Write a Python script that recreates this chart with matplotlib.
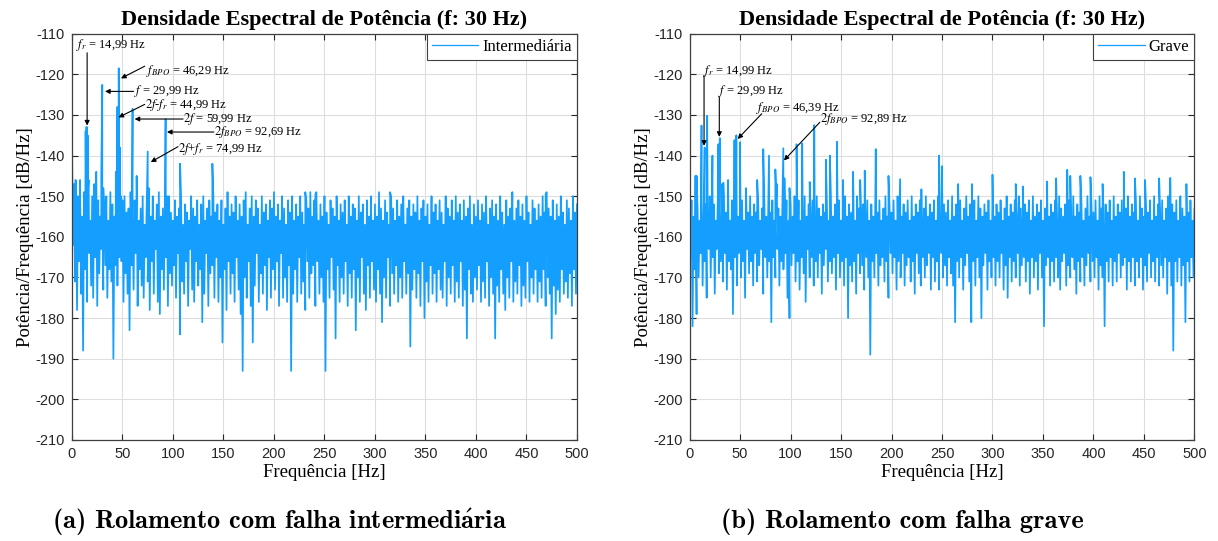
import numpy as np
import matplotlib

matplotlib.use("Agg")
import matplotlib.pyplot as plt

plt.rcParams["mathtext.fontset"] = "stix"
plt.rcParams["axes.unicode_minus"] = False

LINE_COLOR = "#149fff"
SERIF = ["Liberation Serif", "DejaVu Serif"]
SANS = ["Liberation Sans", "DejaVu Sans"]

# noise floor, one value per Hz (0..500), PSD in dB/Hz
noise_inter = [
    -137, -162, -147, -171, -153, -178, -150, -166, -146, -174, -155, -188, -149, -168, -152, -176, -148, -164, -156, -172,
    -150, -175, -147, -165, -154, -177, -151, -169, -155, -163, -148, -173, -153, -167, -150, -175, -156, -168, -149, -171,
    -152, -190, -155, -167, -157, -172, -159, -165, -160, -166, -151, -176, -150, -169, -154, -174, -153, -183, -149, -167,
    -155, -173, -151, -164, -149, -177, -156, -168, -153, -172, -150, -175, -157, -165, -152, -171, -154, -178, -155, -166,
    -150, -174, -156, -163, -152, -176, -149, -179, -155, -168, -153, -173, -151, -165, -157, -177, -150, -169, -154, -172,
    -156, -167, -151, -175, -155, -164, -153, -184, -150, -171, -157, -174, -152, -166, -154, -177, -156, -163, -150, -173,
    -153, -176, -155, -166, -151, -172, -157, -168, -152, -181, -150, -174, -156, -164, -153, -177, -151, -169, -155, -167,
    -150, -175, -154, -165, -152, -176, -156, -170, -151, -186, -157, -168, -153, -178, -149, -166, -155, -174, -152, -169,
    -154, -176, -150, -165, -156, -173, -152, -179, -155, -193, -151, -170, -149, -175, -157, -166, -153, -177, -150, -186,
    -155, -172, -151, -164, -153, -176, -157, -169, -150, -174, -154, -167, -152, -178, -156, -165, -151, -175, -153, -168,
    -149, -173, -155, -166, -152, -177, -156, -164, -150, -175, -153, -170, -157, -176, -151, -167, -154, -193, -150, -174,
    -156, -168, -152, -176, -155, -165, -150, -174, -154, -171, -157, -178, -151, -166, -153, -175, -149, -169, -155, -167,
    -151, -177, -149, -166, -156, -174, -152, -170, -155, -176, -150, -193, -154, -168, -157, -175, -151, -165, -153, -173,
    -155, -185, -150, -167, -156, -176, -152, -170, -154, -174, -151, -166, -157, -177, -150, -169, -155, -175, -152, -168,
    -153, -183, -156, -170, -150, -176, -154, -165, -152, -174, -157, -178, -151, -167, -155, -175, -150, -166, -156, -173,
    -152, -176, -155, -168, -149, -174, -153, -181, -156, -170, -151, -175, -154, -165, -157, -177, -150, -169, -153, -174,
    -156, -167, -151, -176, -155, -170, -152, -175, -150, -166, -157, -174, -153, -169, -151, -187, -155, -173, -152, -168,
    -154, -175, -150, -169, -156, -177, -153, -166, -151, -180, -155, -171, -152, -176, -157, -167, -150, -174, -154, -169,
    -152, -176, -156, -168, -151, -173, -154, -175, -157, -166, -150, -177, -153, -170, -155, -174, -151, -167, -156, -176,
    -150, -171, -154, -175, -152, -166, -156, -177, -151, -173, -155, -185, -153, -168, -150, -174, -157, -176, -152, -170,
    -155, -173, -151, -167, -156, -176, -152, -171, -154, -175, -150, -166, -157, -177, -153, -170, -151, -174, -155, -185,
    -152, -172, -156, -176, -150, -168, -154, -174, -157, -178, -151, -170, -155, -175, -153, -166, -149, -176, -156, -171,
    -153, -174, -151, -167, -155, -177, -152, -172, -156, -175, -150, -166, -154, -176, -157, -170, -151, -174, -153, -168,
    -156, -176, -152, -171, -155, -175, -150, -168, -154, -177, -149, -170, -153, -174, -155, -185, -151, -172, -156, -179,
    -152, -173, -155, -176, -150, -168, -154, -174, -157, -171, -151, -175, -153, -169, -156, -177, -150, -168, -154, -174, -152,
]

noise_grave = [
    -158, -165, -151, -182, -155, -168, -149, -179, -153, -170, -156, -164, -150, -172, -154, -166, -152, -175, -155, -163,
    -150, -170, -154, -165, -152, -174, -156, -163, -151, -169, -153, -166, -155, -171, -150, -164, -154, -173, -152, -166,
    -156, -168, -151, -179, -154, -165, -150, -172, -155, -164, -153, -170, -151, -166, -156, -175, -152, -163, -154, -169,
    -150, -166, -155, -172, -152, -164, -154, -171, -151, -167, -156, -163, -153, -174, -150, -165, -155, -170, -152, -166,
    -154, -181, -151, -165, -156, -170, -150, -163, -153, -172, -155, -166, -152, -168, -154, -164, -151, -175, -156, -180,
    -152, -167, -155, -164, -150, -171, -154, -166, -151, -173, -156, -165, -153, -169, -150, -176, -155, -163, -152, -170,
    -154, -165, -151, -172, -156, -166, -150, -170, -153, -164, -155, -174, -152, -167, -154, -163, -151, -171, -156, -166,
    -150, -169, -155, -165, -152, -173, -154, -164, -151, -170, -156, -166, -153, -172, -150, -165, -155, -180, -152, -167,
    -154, -171, -151, -166, -156, -174, -150, -164, -153, -169, -155, -167, -152, -173, -154, -165, -151, -170, -156, -189,
    -152, -166, -155, -170, -150, -164, -154, -172, -151, -167, -156, -165, -153, -171, -150, -166, -155, -175, -152, -164,
    -154, -169, -151, -165, -156, -173, -150, -166, -153, -170, -155, -164, -152, -172, -154, -167, -151, -165, -156, -171,
    -150, -166, -155, -174, -152, -164, -154, -169, -151, -172, -156, -165, -153, -170, -150, -167, -155, -164, -152, -173,
    -154, -165, -151, -171, -156, -166, -150, -173, -153, -164, -155, -170, -152, -167, -154, -172, -151, -165, -156, -169,
    -150, -172, -155, -181, -152, -166, -154, -170, -151, -165, -156, -173, -153, -167, -150, -164, -155, -171, -152, -181,
    -154, -166, -151, -172, -156, -165, -150, -170, -153, -180, -155, -167, -152, -164, -154, -173, -151, -166, -156, -170,
    -150, -165, -155, -172, -152, -166, -154, -170, -151, -164, -156, -173, -153, -167, -150, -175, -155, -165, -152, -171,
    -154, -166, -151, -170, -156, -164, -150, -172, -153, -167, -155, -165, -152, -171, -154, -166, -151, -174, -156, -165,
    -150, -170, -155, -166, -152, -173, -154, -164, -151, -170, -156, -182, -153, -167, -150, -165, -155, -172, -152, -166,
    -154, -171, -151, -165, -156, -170, -150, -173, -153, -166, -155, -164, -152, -172, -154, -167, -151, -170, -156, -165,
    -150, -168, -155, -174, -152, -166, -154, -171, -151, -165, -156, -172, -153, -167, -150, -164, -155, -171, -152, -166,
    -154, -170, -151, -165, -156, -173, -150, -167, -153, -170, -155, -182, -152, -166, -154, -171, -151, -165, -156, -172,
    -150, -166, -155, -171, -152, -164, -154, -170, -151, -167, -156, -165, -153, -173, -150, -166, -155, -171, -152, -165,
    -154, -172, -151, -166, -156, -170, -150, -165, -153, -173, -155, -167, -152, -171, -154, -164, -151, -170, -156, -166,
    -150, -171, -155, -165, -152, -172, -154, -167, -151, -170, -156, -165, -153, -174, -150, -166, -155, -172, -152, -188,
    -154, -166, -151, -171, -156, -165, -150, -172, -153, -167, -155, -181, -152, -166, -154, -171, -151, -165, -156, -170, -153,
]

# discrete spectral lines (Hz, dB/Hz)
peaks_inter_f = [3.6, 13.5, 14.0, 14.99, 15.5, 16.5, 24.0, 29.0, 29.99, 31.0, 43.5, 44.99, 45.5, 46.29, 47.5, 48.5,
                 59.99, 64.0, 74.99, 76.0, 92.69, 94.0, 107.0, 139.0, 231.0, 241.0, 315.0, 469.0]
peaks_inter_db = [-146, -134, -133, -133, -135, -146, -144, -145, -122.6, -148, -144, -128, -140, -118.5, -138, -150,
                  -128.5, -145, -139, -148, -131, -150, -142, -142, -149, -149.5, -149, -149.5]

peaks_grave_f = [5.9, 7.0, 11.9, 14.99, 17.5, 22.7, 28.6, 29.99, 32.3, 33.5, 38.2, 44.5, 46.39, 50.0, 56.0, 67.0,
                 73.0, 78.7, 85.0, 86.5, 92.89, 94.0, 99.0, 106.0, 111.6, 119.0, 123.5, 135.0, 139.0, 146.0, 152.0,
                 162.0, 169.0, 173.5, 184.4, 197.0, 208.5, 229.6, 247.0, 250.0, 266.0, 279.6, 300.0, 323.0, 330.0,
                 354.0, 363.0, 374.0, 377.0, 387.0, 397.0, 409.0, 430.0, 441.0, 451.0, 465.0, 476.0, 492.0]
peaks_grave_db = [-145, -145, -132.6, -138, -130.2, -140, -137.2, -135.7, -147, -146.7, -146, -136.2, -135, -136.7,
                  -148, -146, -138.4, -140, -143.4, -147, -138.2, -145.6, -148, -137.2, -137, -146.5, -132.5, -141,
                  -140, -136.6, -146, -144, -146, -143.7, -138.4, -145, -145.8, -148.3, -140, -142.6, -147, -147,
                  -144.7, -147, -147.6, -146.4, -145.6, -143.5, -145, -145, -145.3, -147, -144, -145.6, -146, -145.6,
                  -145.5, -147]

# (label, text x, text y, arrow tail, arrow head) in data coords
notes_inter = [
    (r"$f_r$ = 14,99 Hz", 3.6, -112.8, (15.0, -114.7), (15.0, -132.6)),
    (r"$f_{BPO}$ = 46,29 Hz", 73.0, -119.1, (72.0, -118.0), (48.5, -121.0)),
    (r"$f$ = 29,99 Hz", 61.0, -124.2, (61.0, -124.2), (32.7, -124.2)),
    (r"$2f$-$f_r$ = 44,99 Hz", 72.0, -127.6, (72.0, -127.4), (46.0, -130.6)),
    (r"$2f$ = 59,99 Hz", 110.0, -131.0, (110.0, -131.0), (62.0, -131.0)),
    (r"$2f_{BPO}$ = 92,69 Hz", 140.5, -134.2, (140.5, -134.2), (94.0, -134.2)),
    (r"$2f$+$f_r$ = 74,99 Hz", 105.0, -138.4, (105.0, -137.8), (78.0, -141.6)),
]
notes_grave = [
    (r"$f_r$ = 14,99 Hz", 13.1, -119.1, (14.4, -120.3), (14.4, -137.6)),
    (r"$f$ = 29,99 Hz", 27.9, -124.2, (29.5, -125.5), (29.5, -135.4)),
    (r"$f_{BPO}$ = 46,39 Hz", 66.0, -128.3, (71.5, -129.7), (47.7, -135.9)),
    (r"$2f_{BPO}$ = 92,89 Hz", 129.0, -131.1, (129.0, -131.8), (93.5, -141.2)),
]


def merged(noise, pf, pdb):
    f = np.concatenate([np.arange(len(noise), dtype=float), pf])
    y = np.concatenate([np.asarray(noise, dtype=float), pdb])
    order = np.argsort(f, kind="stable")
    return f[order], y[order]


def draw(ax, noise, pf, pdb, notes, label):
    f, y = merged(noise, pf, pdb)
    ax.plot(f, y, color=LINE_COLOR, lw=1.25, label=label)
    ax.set_xlim(0, 500)
    ax.set_ylim(-210, -110)
    ax.set_xticks(np.arange(0, 501, 50))
    ax.set_yticks(np.arange(-210, -109, 10))
    ax.grid(True, color="#dedede", lw=0.8)
    ax.set_axisbelow(True)
    ax.tick_params(direction="in", top=True, right=True, length=4, width=0.8,
                   colors="#262626", labelsize=10.5, pad=5)
    for t in ax.get_xticklabels() + ax.get_yticklabels():
        t.set_family(SANS)
    for s in ax.spines.values():
        s.set_color("#404040")
        s.set_linewidth(0.9)
    ax.set_title("Densidade Espectral de Potência (f: 30 Hz)", family=SERIF,
                 fontweight="bold", fontsize=16, pad=6)
    ax.set_xlabel("Frequência [Hz]", family=SERIF, fontsize=13.5, labelpad=2)
    ax.set_ylabel("Potência/Frequência [dB/Hz]", family=SERIF, fontsize=13.5, labelpad=1)
    for text, tx, ty, tail, head in notes:
        ax.text(tx, ty, text, family=SERIF, fontsize=9, va="center", ha="left")
        ax.annotate("", xy=head, xytext=tail,
                    arrowprops=dict(arrowstyle="-|>", lw=0.8, color="black",
                                    mutation_scale=7, shrinkA=0, shrinkB=0))
    handle, = ax.get_lines()[:1]
    leg = ax.legend(loc="upper right", borderaxespad=0, fancybox=False,
                    framealpha=1, edgecolor="#404040", handlelength=2.8,
                    handletextpad=0.25, borderpad=0.3,
                    prop={"family": SERIF, "size": 12})
    leg.get_frame().set_linewidth(0.8)
    for ln in leg.get_lines():
        ln.set_linewidth(0.9)


fig = plt.figure(figsize=(12.18, 5.41), dpi=100)
ax1 = fig.add_axes([0.0591, 0.1867, 0.4146, 0.751])
ax2 = fig.add_axes([0.5661, 0.1867, 0.4146, 0.751])

draw(ax1, noise_inter, peaks_inter_f, peaks_inter_db, notes_inter, "Intermediária")
draw(ax2, noise_grave, peaks_grave_f, peaks_grave_db, notes_grave, "Grave")

cap = ["cmb10", "DejaVu Serif"]
fig.text(280 / 1218, 1 - 522 / 541,
         r"(a) Rolamento com falha intermedi$\mathbf{\acute{a}}$ria",
         family=cap, math_fontfamily="cm", fontsize=19, ha="center", va="center")
fig.text(902 / 1218, 1 - 522 / 541, "(b) Rolamento com falha grave",
         family=cap, fontsize=19, ha="center", va="center")

fig.savefig("out.png", dpi=100)
